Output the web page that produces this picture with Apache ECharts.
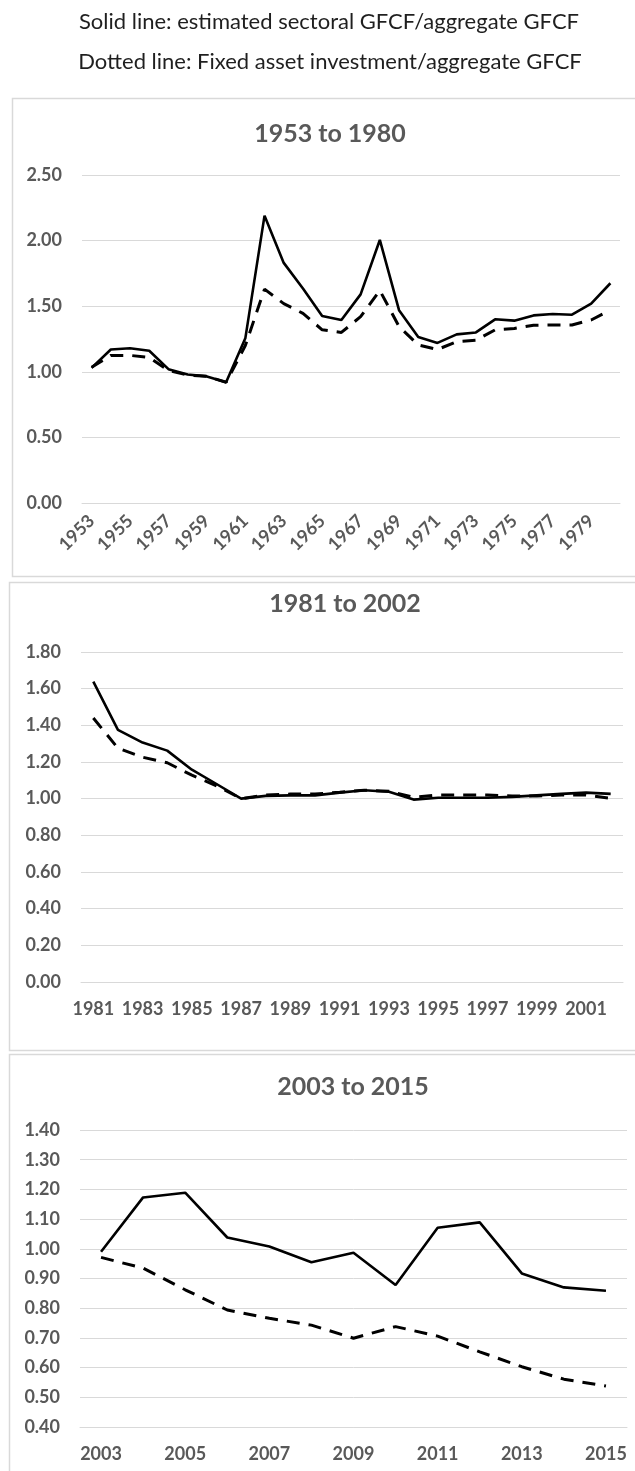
<!DOCTYPE html>
<html>
<head>
<meta charset="utf-8">
<script src="https://cdn.jsdelivr.net/npm/echarts@6/dist/echarts.min.js"></script>
<style>
  html, body { margin: 0; padding: 0; background: #ffffff; }
  #chart { width: 635px; height: 1471px; }
</style>
</head>
<body>
<div id="chart"></div>
<script>
// ---- Period 1: 1953 to 1980 ----
const years1 = ['1953','1954','1955','1956','1957','1958','1959','1960','1961','1962',
  '1963','1964','1965','1966','1967','1968','1969','1970','1971','1972',
  '1973','1974','1975','1976','1977','1978','1979','1980'];
const sectoral1 = [1.03, 1.17, 1.18, 1.16, 1.02, 0.98, 0.965, 0.92, 1.255, 2.19,
  1.83, 1.635, 1.425, 1.395, 1.59, 2.005, 1.47, 1.265, 1.22, 1.285,
  1.30, 1.40, 1.39, 1.43, 1.44, 1.435, 1.52, 1.675];
const fai1 = [1.035, 1.125, 1.125, 1.11, 1.01, 0.975, 0.965, 0.92, 1.20, 1.63,
  1.52, 1.445, 1.32, 1.30, 1.42, 1.62, 1.345, 1.205, 1.17, 1.23,
  1.24, 1.32, 1.33, 1.355, 1.357, 1.357, 1.395, 1.47];

// ---- Period 2: 1981 to 2002 ----
const years2 = ['1981','1982','1983','1984','1985','1986','1987','1988','1989','1990',
  '1991','1992','1993','1994','1995','1996','1997','1998','1999','2000','2001','2002'];
const sectoral2 = [1.638, 1.375, 1.306, 1.262, 1.158, 1.08, 1.0, 1.015, 1.018, 1.018,
  1.033, 1.046, 1.038, 0.995, 1.005, 1.005, 1.005, 1.01, 1.018, 1.026, 1.033, 1.026];
const fai2 = [1.44, 1.275, 1.226, 1.196, 1.128, 1.07, 1.0, 1.02, 1.025, 1.025,
  1.035, 1.046, 1.04, 1.008, 1.02, 1.02, 1.02, 1.015, 1.015, 1.02, 1.02, 1.002];

// ---- Period 3: 2003 to 2015 ----
const years3 = ['2003','2004','2005','2006','2007','2008','2009','2010','2011','2012','2013','2014','2015'];
const sectoral3 = [0.99, 1.173, 1.189, 1.038, 1.008, 0.955, 0.987, 0.878, 1.071, 1.089, 0.917, 0.870, 0.859];
const fai3 = [0.971, 0.935, 0.862, 0.794, 0.766, 0.743, 0.699, 0.738, 0.706, 0.653, 0.603, 0.561, 0.538];

// Axis ranges and tick steps per panel
const yTicks = [
  { min: 0, max: 2.5, interval: 0.5 },
  { min: 0, max: 1.8, interval: 0.2 },
  { min: 0.4, max: 1.4, interval: 0.1 }
];

const headerLines = [
  'Solid line: estimated sectoral GFCF/aggregate GFCF',
  'Dotted line: Fixed asset investment/aggregate GFCF'
];
const panelTitles = ['1953 to 1980', '1981 to 2002', '2003 to 2015'];
const solidName = 'Estimated sectoral GFCF / aggregate GFCF';
const dashedName = 'Fixed asset investment / aggregate GFCF';

const FONT = 'Lato, "Open Sans", sans-serif';
const GREY = '#595959';
const RULE = '#d9d9d9';

const chart = echarts.init(document.getElementById('chart'), null, { renderer: 'canvas' });

const grids = [
  { left: 82, top: 175, width: 538, height: 328 },
  { left: 81, top: 652, width: 542, height: 330 },
  { left: 80, top: 1130, width: 547, height: 297 }
];
const cats = [years1, years2, years3];
const solids = [sectoral1, sectoral2, sectoral3];
const dashes = [fai1, fai2, fai3];
const titleY = [134, 604, 1087];
const titleX = [330, 345, 353];
const labelMargin = [15, 18, 18];

const xAxes = cats.map((c, i) => ({
  type: 'category',
  gridIndex: i,
  data: c,
  boundaryGap: true,
  axisLine: { show: true, lineStyle: { color: RULE, width: 1 } },
  axisTick: { show: false },
  axisLabel: {
    interval: 1,
    rotate: i === 0 ? 45 : 0,
    margin: labelMargin[i],
    color: GREY,
    fontFamily: FONT,
    fontWeight: 'bold',
    fontSize: 18
  }
}));

const yAxes = yTicks.map((t, i) => ({
  type: 'value',
  gridIndex: i,
  min: t.min,
  max: t.max,
  interval: t.interval,
  axisLine: { show: false },
  axisTick: { show: false },
  splitLine: { show: true, lineStyle: { color: RULE, width: 1 } },
  axisLabel: {
    margin: 20,
    color: GREY,
    fontFamily: FONT,
    fontWeight: 'bold',
    fontSize: 18,
    formatter: v => v.toFixed(2)
  }
}));

const series = [];
for (let i = 0; i < 3; i++) {
  series.push({
    name: dashedName,
    type: 'line',
    xAxisIndex: i,
    yAxisIndex: i,
    data: dashes[i],
    symbol: 'none',
    lineStyle: { color: '#000', width: 3, type: [13, 9] },
    z: 2
  });
  series.push({
    name: solidName,
    type: 'line',
    xAxisIndex: i,
    yAxisIndex: i,
    data: solids[i],
    symbol: 'none',
    lineStyle: { color: '#000', width: 2.6, type: 'solid' },
    z: 3
  });
}

const titles = [
  { text: headerLines[0], left: 329, top: 22, textAlign: 'center', textVerticalAlign: 'middle', padding: 0,
    textStyle: { fontFamily: FONT, fontSize: 22, fontWeight: 'normal', color: '#1f1f1f' } },
  { text: headerLines[1], left: 330, top: 62, textAlign: 'center', textVerticalAlign: 'middle', padding: 0,
    textStyle: { fontFamily: FONT, fontSize: 22, fontWeight: 'normal', color: '#1f1f1f' } }
].concat(panelTitles.map((t, i) => ({
  text: t, left: titleX[i], top: titleY[i], textAlign: 'center', textVerticalAlign: 'middle', padding: 0,
  textStyle: { fontFamily: FONT, fontSize: 25, fontWeight: 'bold', color: GREY }
})));

// Panel frames (they run past the right edge of the page)
const frames = [
  { x: 12.5, y: 98.5, width: 700, height: 478 },
  { x: 9.5, y: 582.5, width: 700, height: 468 },
  { x: 9.5, y: 1054.5, width: 700, height: 500 }
].map(r => ({
  type: 'rect',
  shape: r,
  style: { fill: '#fff', stroke: RULE, lineWidth: 1.5 },
  z: -10,
  silent: true
}));

chart.setOption({
  backgroundColor: '#ffffff',
  animation: false,
  title: titles,
  graphic: frames,
  grid: grids,
  xAxis: xAxes,
  yAxis: yAxes,
  series: series
});
</script>
</body>
</html>
